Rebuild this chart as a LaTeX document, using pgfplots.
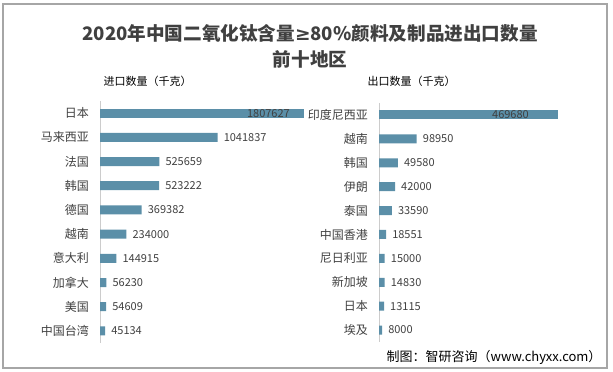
\documentclass[border=0pt]{standalone}
\usepackage{fontspec}
\setmainfont{Noto Sans CJK SC}
\newfontfamily\djv{DejaVu Sans}
\usepackage{pgfplots}
\pgfplotsset{compat=1.18}
\definecolor{barc}{HTML}{5B8FA8}
\definecolor{txt}{HTML}{404040}
\definecolor{frm}{HTML}{A6A6A6}
\begin{document}
\begin{tikzpicture}[x=1pt,y=1pt]
\useasboundingbox (0,0) rectangle (613,372);
\draw[frm,line width=1.2pt] (3,4) rectangle (607,368);
\node[font=\bfseries\fontsize{18.6}{20}\selectfont,text=txt] at (310,372-33) {2020年中国二氧化钛含量{\djv ≥}80\%颜料及制品进出口数量};
\node[font=\bfseries\fontsize{18.6}{20}\selectfont,text=txt] at (310,372-59) {前十地区};
\node[font=\fontsize{11}{13}\selectfont,text=black,anchor=west] at (100,372-81) {进口数量（千克）};
\node[font=\fontsize{11}{13}\selectfont,text=black,anchor=west] at (364,372-81) {出口数量（千克）};
\node[font=\fontsize{13}{15}\selectfont,text=black,anchor=east] at (605,372-357) {制图：智研咨询（www.chyxx.com）};
\pgfplotsset{
  mybars/.style={
    xbar, bar width=9pt, bar shift=0pt,
    scale only axis, clip=false,
    axis x line=none, axis y line*=left,
    y axis line style={gray!40, line width=0.8pt},
    ymin=-0.5, ymax=9.5, y dir=reverse,
    ytick={0,...,9}, major tick length=0pt,
    yticklabel style={anchor=east, inner sep=0pt, xshift=-11pt, font=\fontsize{12}{14}\selectfont, text=txt},
    xmin=0,
    point meta=explicit symbolic,
  },
  vals/.style={draw=none, fill=barc, nodes near coords,
    nodes near coords style={anchor=west, inner sep=0pt, xshift=6pt, font=\fontsize{11}{13}\selectfont, text=txt}},
  valsin/.style={draw=none, fill=barc, nodes near coords,
    nodes near coords style={anchor=east, inner sep=0pt, xshift=#1, font=\fontsize{11}{13}\selectfont, text=txt}},
}
\begin{axis}[mybars, at={(100pt,271pt)}, anchor=north west, width=204pt, height=242pt, xmax=1807627,
  yticklabels={日本,马来西亚,法国,韩国,德国,越南,意大利,加拿大,美国,中国台湾}]
\addplot[valsin=-14pt] coordinates {(1807627,0) [1807627]};
\addplot[vals] coordinates {(1041837,1) [1041837] (525659,2) [525659] (523222,3) [523222] (369382,4) [369382] (234000,5) [234000] (144915,6) [144915] (56230,7) [56230] (54609,8) [54609] (45134,9) [45134]};
\end{axis}
\begin{axis}[mybars, at={(379pt,269pt)}, anchor=north west, width=179pt, height=239pt, xmax=469680,
  yticklabels={印度尼西亚,越南,韩国,伊朗,泰国,中国香港,尼日利亚,新加坡,日本,埃及}]
\addplot[valsin=-29pt] coordinates {(469680,0) [469680]};
\addplot[vals] coordinates {(98950,1) [98950] (49580,2) [49580] (42000,3) [42000] (33590,4) [33590] (18551,5) [18551] (15000,6) [15000] (14830,7) [14830] (13115,8) [13115] (8000,9) [8000]};
\end{axis}
\end{tikzpicture}
\end{document}
